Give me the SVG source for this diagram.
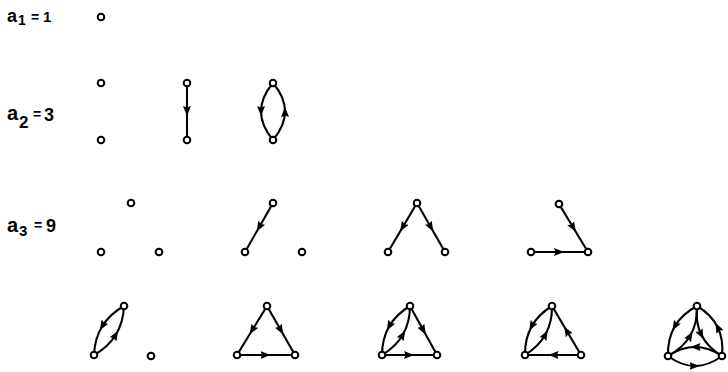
<svg xmlns="http://www.w3.org/2000/svg" width="728" height="372" viewBox="0 0 728 372">
<style>
.n{fill:#fff;stroke:#000;stroke-width:2}
.e{fill:none;stroke:#000;stroke-width:2.1;marker-mid:url(#ah)}
.t{font-family:"Liberation Sans",Arial,sans-serif;font-weight:bold;fill:#000}
</style>
<defs>
<marker id="ah" viewBox="0 0 10 8" refX="5.5" refY="4" markerWidth="10" markerHeight="8" markerUnits="userSpaceOnUse" orient="auto">
<path d="M0,0 L10,4 L0,8 L1.5,4 z" fill="#000"/>
</marker>
</defs>
<rect width="728" height="372" fill="#fff"/>
<g id="labels">
<text class="t" font-size="18" x="7" y="22">a<tspan font-size="14" x="18" y="25">1</tspan><tspan font-size="14" x="31" y="22">=</tspan><tspan font-size="15" x="43" y="22">1</tspan></text>
<text class="t" font-size="20" x="7" y="120">a<tspan font-size="17" x="19" y="128">2</tspan><tspan font-size="14" x="33" y="119">=</tspan><tspan font-size="18" x="44" y="121">3</tspan></text>
<text class="t" font-size="20" x="7" y="232">a<tspan font-size="15" x="19" y="236">3</tspan><tspan font-size="14" x="34" y="230">=</tspan><tspan font-size="18" x="46" y="232">9</tspan></text>
</g>
<g id="connectors">
<path class="e" d="M187,83 L187,111.5 L187,140"/>
<path class="e" d="M273,83 Q261,97.25 261,111.5 Q261,125.75 273,140"/>
<path class="e" d="M273,140 Q285,125.75 285,111.5 Q285,97.25 273,83"/>
<path class="e" d="M273,203 L259,227.5 L245,252"/>
<path class="e" d="M417,203 L402.5,227.5 L388,252"/>
<path class="e" d="M417,203 L431,227.5 L445,252"/>
<path class="e" d="M559,204 L573.5,228 L588,252"/>
<path class="e" d="M531,252 L559.5,252 L588,252"/>
<path class="e" d="M124,306 Q109.68,314.08 102.18,326.32 Q94.68,338.58 94,355"/>
<path class="e" d="M94,355 Q108.33,346.93 115.82,334.68 Q123.33,322.43 124,306"/>
<path class="e" d="M267,306 L252,330.5 L237,355"/>
<path class="e" d="M267,306 L281,330.5 L295,355"/>
<path class="e" d="M237,355 L266,355 L295,355"/>
<path class="e" d="M410,306 Q396.06,314.28 389.05,326.53 Q382.06,338.78 382,355"/>
<path class="e" d="M382,355 Q395.95,346.72 402.95,334.47 Q409.95,322.22 410,306"/>
<path class="e" d="M410,306 L423.5,330.5 L437,355"/>
<path class="e" d="M382,355 L409.5,355 L437,355"/>
<path class="e" d="M552,306 Q538.25,314.39 531.49,326.64 Q524.75,338.89 525,355"/>
<path class="e" d="M525,355 Q538.76,346.61 545.51,334.36 Q552.26,322.11 552,306"/>
<path class="e" d="M581,355 L566.5,330.5 L552,306"/>
<path class="e" d="M581,355 L553,355 L525,355"/>
<path class="e" d="M697,306 Q681.97,313.99 674.71,326.48 Q667.47,338.99 668,356"/>
<path class="e" d="M668,356 Q683.04,348.02 690.29,335.52 Q697.54,323.02 697,306"/>
<path class="e" d="M722,356 Q723.8,339.48 717.55,326.98 Q711.3,314.48 697,306"/>
<path class="e" d="M697,306 Q695.2,322.53 701.45,335.02 Q707.7,347.53 722,356"/>
<path class="e" d="M722,356 Q708.5,347 695,347 Q681.5,347 668,356"/>
<path class="e" d="M668,356 Q681.5,366 695,366 Q708.5,366 722,356"/>
</g>
<g id="n1"><circle class="n" cx="101" cy="17" r="3.3"/></g>
<g id="n2a"><circle class="n" cx="101" cy="83" r="3.3"/></g>
<g id="n2b"><circle class="n" cx="101" cy="140" r="3.3"/></g>
<g id="n2c"><circle class="n" cx="187" cy="83" r="3.3"/></g>
<g id="n2d"><circle class="n" cx="187" cy="140" r="3.3"/></g>
<g id="n2e"><circle class="n" cx="273" cy="83" r="3.3"/></g>
<g id="n2f"><circle class="n" cx="273" cy="140" r="3.3"/></g>
<g id="n3a"><circle class="n" cx="131" cy="203" r="3.3"/></g>
<g id="n3b"><circle class="n" cx="101" cy="252" r="3.3"/></g>
<g id="n3c"><circle class="n" cx="159" cy="252" r="3.3"/></g>
<g id="n3d"><circle class="n" cx="273" cy="203" r="3.3"/></g>
<g id="n3e"><circle class="n" cx="245" cy="252" r="3.3"/></g>
<g id="n3f"><circle class="n" cx="302" cy="252" r="3.3"/></g>
<g id="n3g"><circle class="n" cx="417" cy="203" r="3.3"/></g>
<g id="n3h"><circle class="n" cx="388" cy="252" r="3.3"/></g>
<g id="n3i"><circle class="n" cx="445" cy="252" r="3.3"/></g>
<g id="n3j"><circle class="n" cx="559" cy="204" r="3.3"/></g>
<g id="n3k"><circle class="n" cx="531" cy="252" r="3.3"/></g>
<g id="n3l"><circle class="n" cx="588" cy="252" r="3.3"/></g>
<g id="n4a"><circle class="n" cx="124" cy="306" r="3.3"/></g>
<g id="n4b"><circle class="n" cx="94" cy="355" r="3.3"/></g>
<g id="n4c"><circle class="n" cx="151" cy="356" r="3.3"/></g>
<g id="n4d"><circle class="n" cx="267" cy="306" r="3.3"/></g>
<g id="n4e"><circle class="n" cx="237" cy="355" r="3.3"/></g>
<g id="n4f"><circle class="n" cx="295" cy="355" r="3.3"/></g>
<g id="n4g"><circle class="n" cx="410" cy="306" r="3.3"/></g>
<g id="n4h"><circle class="n" cx="382" cy="355" r="3.3"/></g>
<g id="n4i"><circle class="n" cx="437" cy="355" r="3.3"/></g>
<g id="n4j"><circle class="n" cx="552" cy="306" r="3.3"/></g>
<g id="n4k"><circle class="n" cx="525" cy="355" r="3.3"/></g>
<g id="n4l"><circle class="n" cx="581" cy="355" r="3.3"/></g>
<g id="n4m"><circle class="n" cx="697" cy="306" r="3.3"/></g>
<g id="n4n"><circle class="n" cx="668" cy="356" r="3.3"/></g>
<g id="n4o"><circle class="n" cx="722" cy="356" r="3.3"/></g>
</svg>
